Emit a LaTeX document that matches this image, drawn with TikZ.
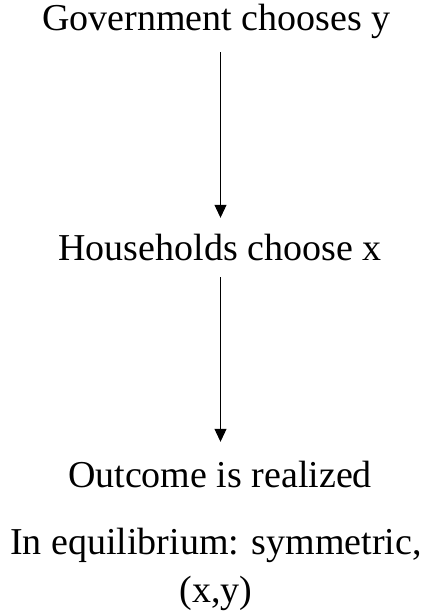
\documentclass[tikz,border=0pt]{standalone}
\usepackage{fontspec}
\setmainfont{Liberation Serif}
\usetikzlibrary{arrows.meta}
\begin{document}
\begin{tikzpicture}[x=1pt,y=-1pt,
  step label/.style={font=\fontsize{38}{48}\selectfont, inner sep=0pt, anchor=base},
  one line/.style={text height=25pt, text depth=8pt},
  stage arrow/.style={line width=1pt, -{Triangle[width=12pt,length=13pt]}}]
  \useasboundingbox (0,0) rectangle (432,613);

  \node[step label, one line] (gov) at (216.5,30) {Government chooses y};
  \node[step label, one line] (house) at (220,260) {Households choose x};
  \node[step label, one line] (outcome) at (220,487) {Outcome is realized};
  % base of a two-line node is the last line
  \node[step label, align=center] (eq) at (216,602) {In equilibrium: symmetric,\\(x,y)};

  \coordinate (axis) at (220.5,0);
  \draw[stage arrow, shorten <=14pt, shorten >=17pt] (gov.south -| axis) -- (house.north -| axis);
  \draw[stage arrow, shorten <=9pt, shorten >=20pt] (house.south -| axis) -- (outcome.north -| axis);
\end{tikzpicture}
\end{document}
